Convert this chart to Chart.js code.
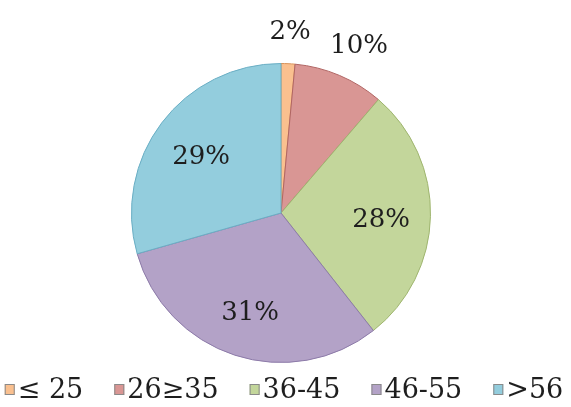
<!DOCTYPE html>
<html>
<head>
<meta charset="utf-8">
<script src="https://cdn.jsdelivr.net/npm/chart.js@4"></script>
<style>
  html, body { margin: 0; padding: 0; background: #fff; }
  #wrap { width: 571px; height: 407px; }
</style>
</head>
<body>
<div id="wrap"><canvas id="ageChart" width="571" height="407"></canvas></div>
<script>
var categories = ["\u2264 25", "26\u226535", "36-45", "46-55", ">56"];
var shares = [1.5, 9.8, 28.1, 31.2, 29.4];
var fillColors = ["#FAC08F", "#D99694", "#C3D69B", "#B3A2C7", "#93CDDD"];
var edgeColors = ["#D9935A", "#B06563", "#9FB56F", "#8C7AA8", "#6AAEC4"];

var fontFamily = "'DejaVu Serif', 'Liberation Serif', serif";

// percentage labels: small slices outside, others inside
var sliceLabels = {
  id: "sliceLabels",
  afterDatasetsDraw: function (chart) {
    var ctx = chart.ctx;
    var meta = chart.getDatasetMeta(0);
    ctx.save();
    ctx.font = "26px " + fontFamily;
    ctx.fillStyle = "#1e1e1e";
    ctx.textAlign = "center";
    ctx.textBaseline = "middle";
    meta.data.forEach(function (arc, i) {
      var v = chart.data.datasets[0].data[i];
      var text = Math.round(v) + "%";
      var mid = (arc.startAngle + arc.endAngle) / 2;
      var cx = Math.cos(mid), cy = Math.sin(mid);
      var x, y;
      if (v < 12) {
        // outside: push the text box away from the rim
        var w = ctx.measureText(text).width;
        var r = arc.outerRadius * 1.14;
        x = arc.x + cx * r + cx * w / 2;
        y = arc.y + cy * r + cy * 11;
      } else {
        x = arc.x + cx * arc.outerRadius * 0.67;
        y = arc.y + cy * arc.outerRadius * 0.67 + 5;
      }
      ctx.fillText(text, x, y);
    });
    ctx.restore();
  }
};

// legend with small boxes tight against the text
var bottomLegend = {
  id: "bottomLegend",
  afterDraw: function (chart) {
    var ctx = chart.ctx;
    var ds = chart.data.datasets[0];
    ctx.save();
    ctx.font = "27px " + fontFamily;
    var box = 10, gap = 3, spacing = 31;
    var widths = chart.data.labels.map(function (t) {
      return box + gap + ctx.measureText(t).width;
    });
    var total = widths.reduce(function (a, b) { return a + b; }, 0) + spacing * (widths.length - 1);
    var x = 284 - total / 2;
    var y = 391;
    ctx.textBaseline = "middle";
    ctx.textAlign = "left";
    chart.data.labels.forEach(function (t, i) {
      ctx.fillStyle = ds.backgroundColor[i];
      ctx.fillRect(x, y - 7, box, 11);
      ctx.strokeStyle = "#8a8a8a";
      ctx.lineWidth = 1;
      ctx.strokeRect(x + 0.5, y - 6.5, box - 1, 10);
      ctx.fillStyle = "#1e1e1e";
      ctx.fillText(t, x + box + gap, y);
      x += widths[i] + spacing;
    });
    ctx.restore();
  }
};

var ctx = document.getElementById("ageChart").getContext("2d");
var ageChart = new Chart(ctx, {
  type: "pie",
  data: {
    labels: categories,
    datasets: [
      {
        data: shares,
        backgroundColor: fillColors,
        borderColor: edgeColors,
        borderWidth: 1
      }
    ]
  },
  options: {
    responsive: false,
    animation: false,
    devicePixelRatio: 1,
    layout: {
      padding: { top: 63, bottom: 44, left: 131, right: 140 }
    },
    plugins: {
      legend: { display: false },
      tooltip: { enabled: false }
    }
  },
  plugins: [sliceLabels, bottomLegend]
});
</script>
</body>
</html>
